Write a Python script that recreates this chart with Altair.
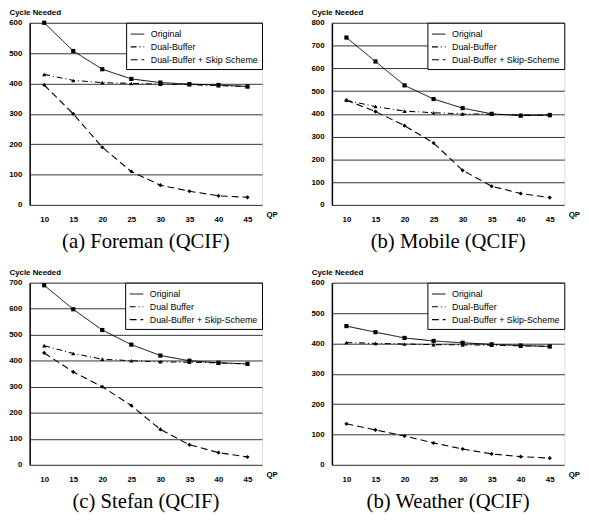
import altair as alt
import pandas as pd

# ---------------- data ----------------
QP = [10, 15, 20, 25, 30, 35, 40, 45]

captions = ["(a) Foreman (QCIF)", "(b) Mobile (QCIF)", "(c) Stefan (QCIF)", "(b) Weather (QCIF)"]
y_max = [600, 800, 700, 600]

legend_labels = [
    ["Original", "Dual-Buffer", "Dual-Buffer + Skip Scheme"],
    ["Original", "Dual-Buffer", "Dual-Buffer + Skip-Scheme"],
    ["Original", "Dual Buffer", "Dual-Buffer + Skip-Scheme"],
    ["Original", "Dual-Buffer", "Dual-Buffer + Skip-Scheme"],
]
marker_keys = ["square", "triangle", "diamond"]

foreman_original = [600, 507, 447, 415, 403, 398, 395, 390]
foreman_dual = [430, 410, 403, 400, 398, 396, 393, 390]
foreman_skip = [395, 300, 190, 110, 65, 45, 30, 25]

mobile_original = [735, 630, 525, 465, 425, 400, 392, 395]
mobile_dual = [460, 432, 412, 405, 400, 398, 395, 393]
mobile_skip = [460, 410, 348, 272, 152, 82, 50, 32]

stefan_original = [690, 598, 518, 462, 420, 400, 392, 388]
stefan_dual = [458, 428, 406, 400, 396, 394, 392, 388]
stefan_skip = [430, 357, 300, 228, 136, 77, 47, 30]

weather_original = [457, 437, 418, 408, 402, 397, 393, 390]
weather_dual = [403, 400, 398, 396, 395, 394, 392, 390]
weather_skip = [135, 115, 95, 72, 52, 36, 27, 22]

panel_series = [
    [foreman_original, foreman_dual, foreman_skip],
    [mobile_original, mobile_dual, mobile_skip],
    [stefan_original, stefan_dual, stefan_skip],
    [weather_original, weather_dual, weather_skip],
]

# ---------------- styles ----------------
DASHES = [[1, 0], [6, 3, 1, 3], [7, 4]]
WIDTHS = [1, 1.1, 1.7]
SHAPES = ["square", "triangle-up", "diamond"]
PW, PH = 236, 185
SANS = "Liberation Sans"
SERIF = "Liberation Serif"


def make_panel(caption, ymax, labels, series):
    rows = []
    for lab, mk, vals in zip(labels, marker_keys, series):
        for q, v in zip(QP, vals):
            rows.append({"QP": q, "Cycles": v, "Series": lab, "Marker": mk})
    df = pd.DataFrame(rows)

    base = alt.Chart(df).encode(
        x=alt.X(
            "QP:O",
            scale=alt.Scale(type="point", padding=0.5),
            axis=alt.Axis(
                title="QP", titleX=PW + 4, titleY=10, titleAlign="left",
                titleBaseline="middle", titleFont=SANS, titleFontSize=8,
                titleFontWeight="bold", labelAngle=0, labelFont=SANS,
                labelFontSize=8, labelFontWeight="bold", labelColor="black",
                ticks=False, domain=False, grid=False, labelPadding=11,
            ),
        ),
        y=alt.Y(
            "Cycles:Q",
            scale=alt.Scale(domain=[0, ymax], nice=False),
            axis=alt.Axis(
                values=list(range(0, ymax + 1, 100)), format="d",
                title="Cycle Needed", titleAngle=0, titleX=-21, titleY=-10,
                titleAlign="left", titleBaseline="middle", titleFont=SANS,
                titleFontSize=8, titleFontWeight="bold", labelFont=SANS,
                labelFontSize=8, labelFontWeight="bold", labelColor="black",
                ticks=False, labelPadding=8, domain=True, domainColor="black",
                domainWidth=1.5, grid=True, gridColor="#333333", gridWidth=1,
            ),
        ),
    )

    lines = base.mark_line(color="black").encode(
        strokeDash=alt.StrokeDash(
            "Series:N",
            scale=alt.Scale(domain=labels, range=DASHES),
            legend=alt.Legend(
                title=None, orient="top-right", offset=0, symbolType="stroke",
                symbolSize=190, symbolStrokeColor="black", symbolStrokeWidth=1,
                labelFont=SANS, labelFontSize=9, labelColor="black",
                strokeColor="black", fillColor="white", padding=4,
                rowPadding=0, labelOffset=6,
            ),
        ),
        strokeWidth=alt.StrokeWidth(
            "Series:N", scale=alt.Scale(domain=labels, range=WIDTHS), legend=None
        ),
    )
    pts = base.mark_point(filled=True, color="black", size=18, opacity=1).encode(
        shape=alt.Shape("Marker:N", scale=alt.Scale(domain=marker_keys, range=SHAPES), legend=None)
    )
    return alt.layer(lines, pts).properties(
        width=PW, height=PH,
        title=alt.Title(caption, orient="bottom", anchor="middle", font=SERIF,
                        fontSize=21, fontWeight="normal", color="black", offset=8),
    )


panels = [make_panel(c, m, l, s) for c, m, l, s in zip(captions, y_max, legend_labels, panel_series)]

chart = (
    alt.concat(*panels, columns=2, spacing={"row": 79, "column": 71}, bounds="flush")
    .resolve_scale(strokeDash="independent", strokeWidth="independent",
                   shape="independent", x="independent", y="independent")
    .resolve_legend(strokeDash="independent")
    .properties(padding={"left": 0, "top": -4, "right": 0, "bottom": 0})
    .configure_view(stroke="black", strokeWidth=1)
    .configure(background="white")
)

chart.save("out.html", embed_options={"renderer": "svg", "actions": False})
